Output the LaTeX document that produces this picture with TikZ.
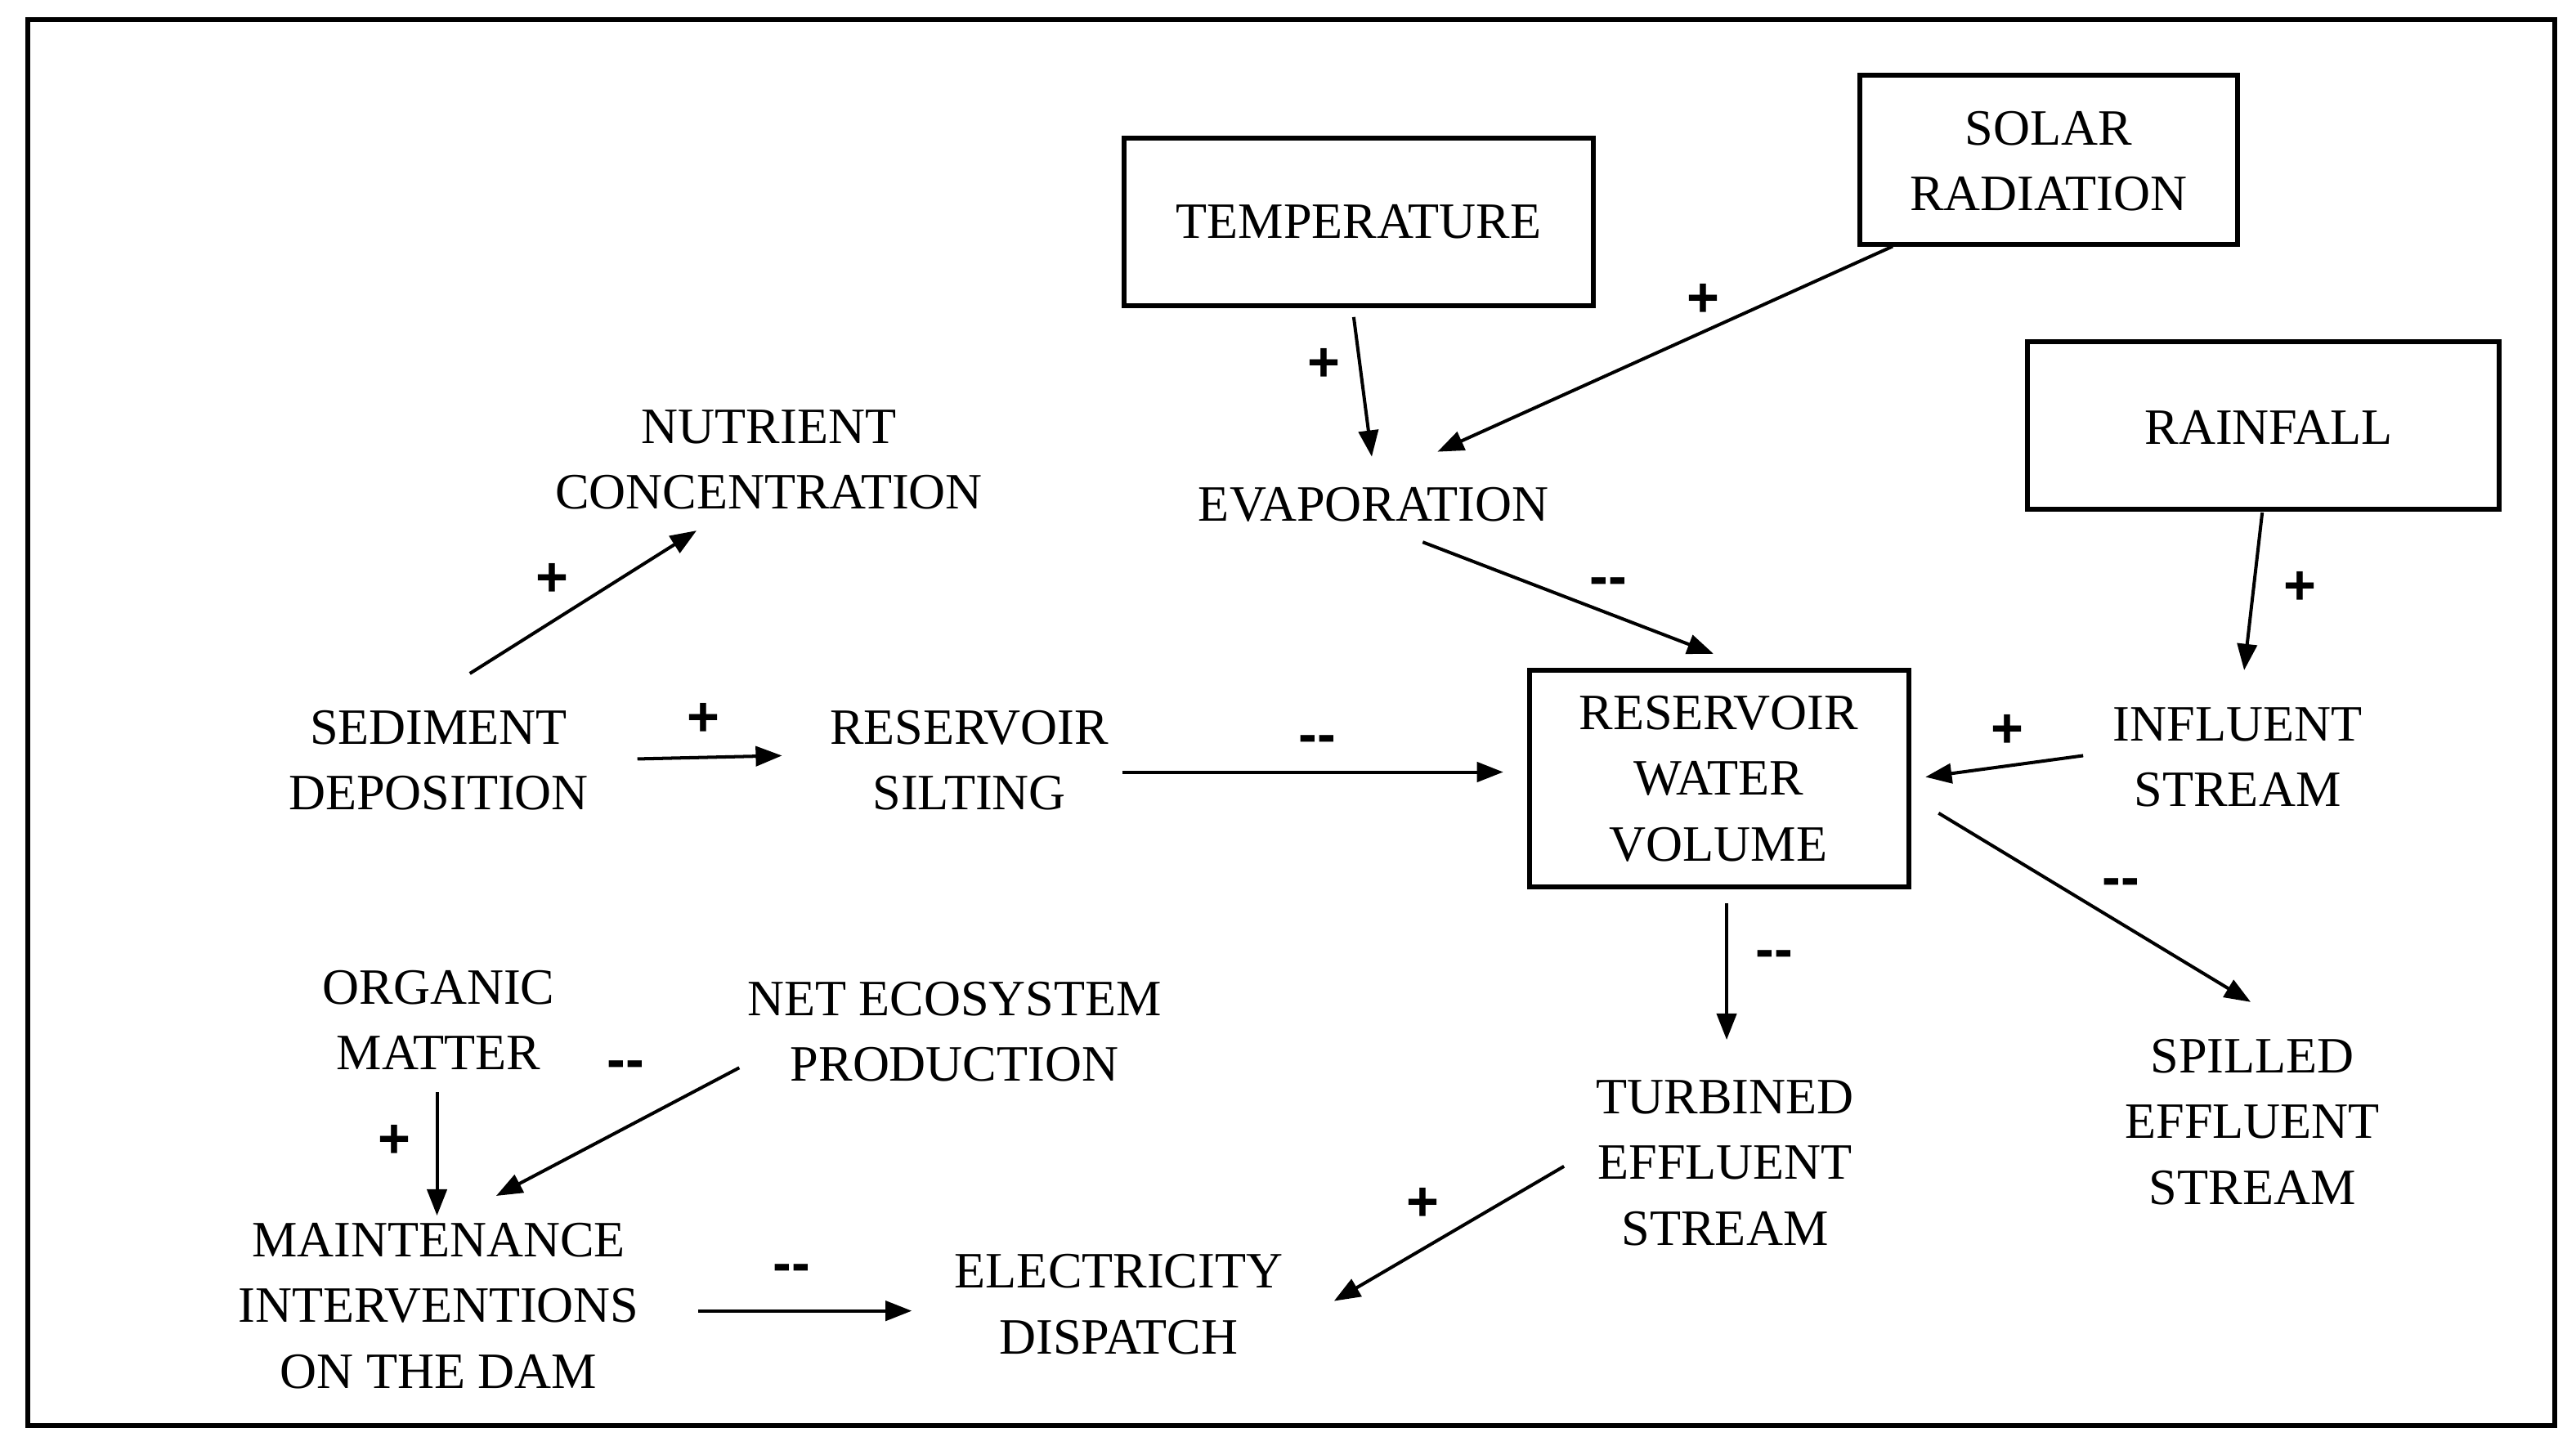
\documentclass[tikz,border=0pt]{standalone}
\usepackage{fontspec}
\setmainfont{Liberation Serif}
\newfontfamily\signfont{Liberation Sans}
\usetikzlibrary{calc,arrows.meta}
\begin{document}
\begin{tikzpicture}[x=0.5pt,y=-0.5pt,
  txt/.style={align=center,font=\fontsize{15.5}{20}\selectfont,inner sep=0pt},
  box/.style={draw,line width=1.5pt,minimum width=#1},
  arr/.style={line width=1pt,-{Triangle[length=8pt,width=6pt]}},
  sgn/.style={font=\signfont\bfseries\fontsize{17}{17}\selectfont,inner sep=0pt}]
\useasboundingbox (0,0) rectangle (1568,880);
\draw[line width=1.5pt] (17,12) rectangle (1555,868);
\draw[line width=1.5pt] (684,84) rectangle (970,186);
\draw[line width=1.5pt] (1132,46) rectangle (1362,149);
\draw[line width=1.5pt] (1234,208) rectangle (1521,310);
\draw[line width=1.5pt] (931,408) rectangle (1162,540);
\node[txt] (temp) at (827,135) {TEMPERATURE};
\node[txt] (solar) at (1247,98) {SOLAR\\RADIATION};
\node[txt] (rain) at (1381,260) {RAINFALL};
\node[txt] (evap) at (836,307) {EVAPORATION};
\node[txt] (nutr) at (468,280) {NUTRIENT\\CONCENTRATION};
\node[txt] (sed) at (267,463) {SEDIMENT\\DEPOSITION};
\node[txt] (silt) at (590,463) {RESERVOIR\\SILTING};
\node[txt] (rwv) at (1046,474) {RESERVOIR\\WATER\\VOLUME};
\node[txt] (infl) at (1362,461) {INFLUENT\\STREAM};
\node[txt] (org) at (267,621) {ORGANIC\\MATTER};
\node[txt] (nep) at (581,628) {NET ECOSYSTEM\\PRODUCTION};
\node[txt] (turb) at (1050,708) {TURBINED\\EFFLUENT\\STREAM};
\node[txt] (spill) at (1371,683) {SPILLED\\EFFLUENT\\STREAM};
\node[txt] (maint) at (267,795) {MAINTENANCE\\INTERVENTIONS\\ON THE DAM};
\node[txt] (elec) at (681,794) {ELECTRICITY\\DISPATCH};
\draw[arr] ($(temp)+(-3,58)$) -- ($(evap)+(-1,-29)$);
\draw[arr] ($(solar)+(-95,52)$) -- ($(evap)+(39,-32)$);
\draw[arr] ($(evap)+(30,23)$) -- ($(rwv)+(-3,-76)$);
\draw[arr] ($(rain)+(-4,52)$) -- ($(infl)+(4,-53)$);
\draw[arr] ($(infl)+(-94,-1)$) -- ($(rwv)+(126,-1)$);
\draw[arr] ($(rwv)+(134,21)$) -- ($(spill)+(-1,-73)$);
\draw[arr] ($(rwv)+(5,76)$) -- ($(turb)+(1,-75)$);
\draw[arr] ($(turb)+(-98,2)$) -- ($(elec)+(131,-2)$);
\draw[arr] ($(sed)+(19,-53)$) -- ($(nutr)+(-44,43)$);
\draw[arr] ($(sed)+(121,-1)$) -- ($(silt)+(-114,-3)$);
\draw[arr] ($(silt)+(93,7)$) -- ($(rwv)+(-131,-4)$);
\draw[arr] ($(org)+(-1,44)$) -- ($(maint)+(-1,-55)$);
\draw[arr] ($(nep)+(-131,22)$) -- ($(maint)+(35,-67)$);
\draw[arr] ($(maint)+(158,3)$) -- ($(elec)+(-126,4)$);
\node[sgn] at (806,222) {+};
\node[sgn] at (1037,183) {+};
\node[sgn] at (979,357) {--};
\node[sgn] at (1400,358) {+};
\node[sgn] at (1222,445) {+};
\node[sgn] at (1291,540) {--};
\node[sgn] at (1080,584) {--};
\node[sgn] at (866,733) {+};
\node[sgn] at (336,353) {+};
\node[sgn] at (428,438) {+};
\node[sgn] at (802,453) {--};
\node[sgn] at (240,695) {+};
\node[sgn] at (381,651) {--};
\node[sgn] at (482,775) {--};
\end{tikzpicture}
\end{document}
